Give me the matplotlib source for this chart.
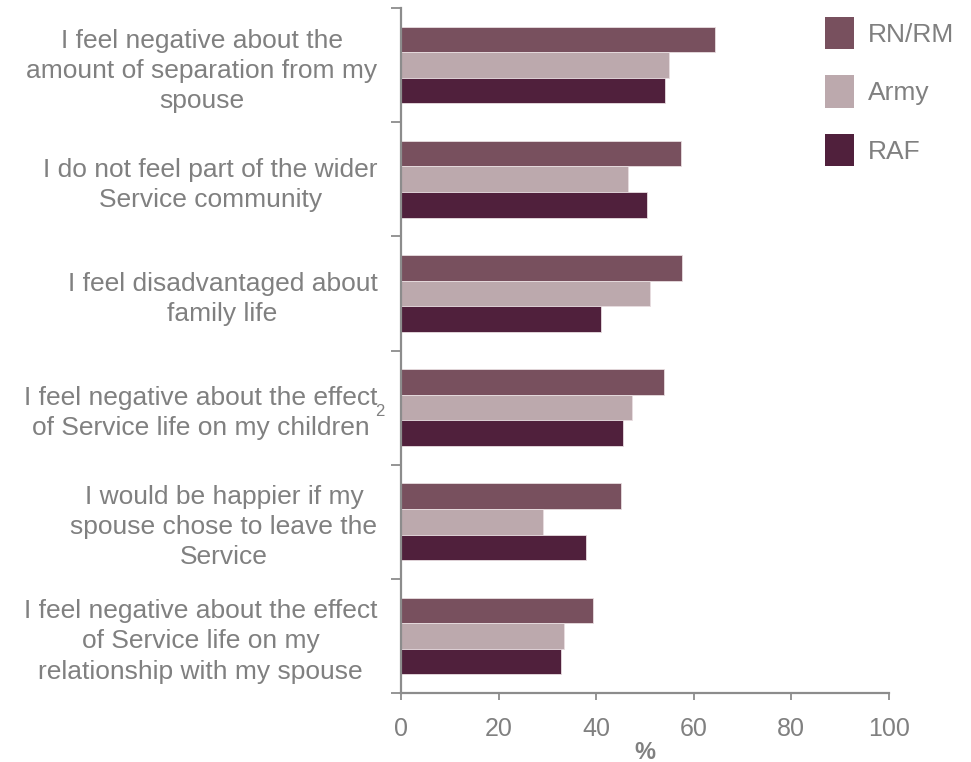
import numpy as np
import matplotlib
matplotlib.use("Agg")
import matplotlib.pyplot as plt
from matplotlib.patches import Patch

plt.rcParams["font.family"] = ["Liberation Sans", "DejaVu Sans"]

statements = [
    "I feel negative about the\namount of separation from my\nspouse",
    "I do not feel part of the wider\nService community",
    "I feel disadvantaged about\nfamily life",
    "I feel negative about the effect\nof Service life on my children",
    "I would be happier if my\nspouse chose to leave the\nService",
    "I feel negative about the effect\nof Service life on my\nrelationship with my spouse",
]
services = ["RN/RM", "Army", "RAF"]
rn_rm = [64.4, 57.3, 57.5, 53.8, 45.0, 39.4]
army = [54.9, 46.6, 51.1, 47.4, 29.0, 33.5]
raf = [54.0, 50.4, 41.0, 45.5, 38.0, 32.7]
colors = ["#78505E", "#BCA9AD", "#50203C"]

grey = "#808080"
spine_grey = "#8C8C8C"

fig = plt.figure(figsize=(9.71, 7.62), dpi=100)
ax = fig.add_axes([0.413, 0.0905, 0.5025, 0.899])

y = np.arange(len(statements))
h = 0.224
for i, (vals, col) in enumerate(zip([rn_rm, army, raf], colors)):
    ax.barh(y + (i - 1) * h, vals, height=h, color=col,
            edgecolor="#E8DDE0", linewidth=0.6)

ax.set_xlim(0, 100)
ax.set_ylim(len(statements) - 0.5, -0.5)

for side in ("top", "right"):
    ax.spines[side].set_visible(False)
for side in ("left", "bottom"):
    ax.spines[side].set_color(spine_grey)
    ax.spines[side].set_linewidth(1.6)

ax.set_xticks(np.arange(0, 101, 20))
ax.tick_params(axis="x", colors=spine_grey, labelcolor=grey, labelsize=18,
               length=5, width=1.3, pad=12)

# labels sit between the boundary ticks
ax.set_yticks(y)
ax.set_yticklabels(statements, multialignment="center", fontsize=19,
                   color=grey, linespacing=1.32)
ax.tick_params(axis="y", which="major", length=0, pad=17)
ax.set_yticks(np.arange(-0.5, len(statements)), minor=True)
ax.tick_params(axis="y", which="minor", length=7, width=1.3,
               colors=spine_grey)

ax.annotate("2", xy=(0, 3), xycoords="data", xytext=(-15, -3),
            textcoords="offset points", ha="center", va="center",
            fontsize=12, color=grey)

ax.set_xlabel("%", fontsize=17, fontweight="bold", color=grey, labelpad=0)

handles = [Patch(facecolor=c, edgecolor="none") for c in colors]
fig.legend(handles, services, loc="upper left", bbox_to_anchor=(0.8496, 0.978),
           frameon=False, fontsize=19, labelcolor=grey, handlelength=1.1,
           handleheight=1.52, handletextpad=0.53, labelspacing=0.98,
           borderpad=0, borderaxespad=0)

fig.savefig("out.png", dpi=100)
